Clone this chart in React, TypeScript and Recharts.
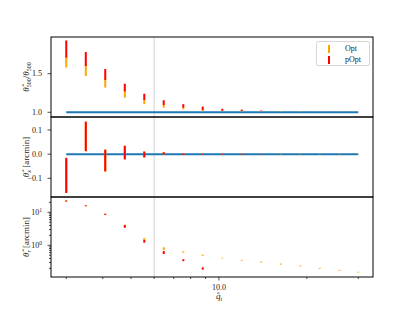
import { ComposedChart, Line, Scatter, ErrorBar, XAxis, YAxis, ReferenceLine } from 'recharts'

// q_t sample points (log spaced)
const q = [3.0, 3.5, 4.08, 4.76, 5.55, 6.47, 7.55, 8.8, 10.27, 11.97, 13.96, 16.29, 19.0, 22.15, 25.84, 30.0]

// panel 1: theta500 ratio
const ratioOptLo = [1.58, 1.47, 1.32, 1.19, 1.105, 1.06, 1.04, 1.017, 1.016, 1.014, 1.012, 1.01, 1.008, 1.006, 1.005, 1.004]
const ratioOptHi = [1.73, 1.62, 1.44, 1.28, 1.17, 1.1, 1.065, 1.035, 1.03, 1.025, 1.018, 1.016, 1.013, 1.009, 1.008, 1.006]
const ratioPoptLo = [1.71, 1.6, 1.42, 1.27, 1.16, 1.095, 1.06, 1.03, 1.022, 1.018, 1.014]
const ratioPoptHi = [1.93, 1.78, 1.56, 1.37, 1.24, 1.156, 1.105, 1.074, 1.045, 1.035, 1.022]
const ratioTruth = q.map(() => 1)

// panel 2: offset
const offOptLo = [-0.155, 0.015, -0.074, -0.02, -0.012, -0.001, -0.003, -0.002, -0.002, -0.002, -0.001, -0.001, -0.001, -0.001, -0.001, -0.001]
const offOptHi = [-0.02, 0.13, 0.017, 0.032, 0.01, 0.007, 0.003, 0.002, 0.002, 0.002, 0.001, 0.001, 0.001, 0.001, 0.001, 0.001]
const offPoptLo = [-0.161, 0.012, -0.07, -0.022, -0.014, -0.001, -0.003, -0.002, -0.002, -0.002, -0.001]
const offPoptHi = [-0.015, 0.135, 0.019, 0.035, 0.011, 0.008, 0.003, 0.002, 0.002, 0.002, 0.001]
const offTruth = q.map(() => 0)

// panel 3: width (arcmin)
const widOptLo = [21, 15.2, 8.3, 3.6, 1.45, 0.72, 0.6, 0.48, 0.4, 0.34, 0.3, 0.26, 0.23, 0.195, 0.17, 0.15]
const widOptHi = [23, 16.4, 9.1, 4.2, 1.65, 0.87, 0.66, 0.52, 0.42, 0.36, 0.32, 0.28, 0.245, 0.207, 0.18, 0.158]
const widPoptLo = [21.2, 15.3, 8.4, 3.4, 1.2, 0.545, 0.33, 0.183]
const widPoptHi = [22.8, 16.2, 9.0, 4.1, 1.45, 0.67, 0.377, 0.215]

const xMinorTicks = [3, 4, 5, 6, 7, 8, 9, 10, 20, 30]
const logYTicks = [0.2, 0.3, 0.4, 0.5, 0.6, 0.7, 0.8, 0.9, 1, 2, 3, 4, 5, 6, 7, 8, 9, 10, 20]

const W = 415
const H = 311
const LEFT = 51
const RIGHT = 373
const Y_AXIS_W = 40
const X_AXIS_H = 30
const panels = [
  { top: 37, bottom: 117 },
  { top: 117, bottom: 197 },
  { top: 197, bottom: 277 },
]
const FONT = '"Liberation Serif", "DejaVu Serif", serif'
const OPT = '#ffa500'
const POPT = '#ff0000'
const BLUE = '#1f77b4'
const INK = '#222'

const toBars = (lo: number[], hi: number[]) =>
  lo.map((l, i) => {
    const mid = (l + hi[i]) / 2
    return { x: q[i], y: mid, err: [mid - l, hi[i] - mid] }
  })

const toLine = (vals: number[]) => vals.map((v, i) => ({ x: q[i], y: v }))

const XTick = ({ x, y, payload }: any) => {
  const major = payload.value === 10
  return (
    <g>
      <line x1={x} x2={x} y1={y} y2={y + (major ? 3.5 : 2)} stroke={INK} strokeWidth={0.8} />
      {major && (
        <text x={x} y={y + 12.5} textAnchor="middle" fontSize={8} fontFamily={FONT} fill={INK}>
          10.0
        </text>
      )}
    </g>
  )
}

const linearYTick = (fmt: (v: number) => string) => ({ x, y, payload }: any) => (
  <g>
    <line x1={x - 3.5} x2={x} y1={y} y2={y} stroke={INK} strokeWidth={0.8} />
    <text x={x - 9} y={y} dy="0.35em" textAnchor="end" fontSize={8} fontFamily={FONT} fill={INK}>
      {fmt(payload.value)}
    </text>
  </g>
)

const LogYTick = ({ x, y, payload }: any) => {
  const v = payload.value
  const major = v === 1 || v === 10
  return (
    <g>
      <line x1={x - (major ? 3.5 : 2)} x2={x} y1={y} y2={y} stroke={INK} strokeWidth={0.8} />
      {major && (
        <text x={x - 9} y={y} dy="0.35em" textAnchor="end" fontSize={8} fontFamily={FONT} fill={INK}>
          10
          <tspan dy={-3} fontSize={5.5}>{v === 1 ? '0' : '1'}</tspan>
        </text>
      )}
    </g>
  )
}

const hideShape = () => <g />

function Panel({ index, children, yAxis }: any) {
  const p = panels[index]
  const showX = index === 2
  return (
    <div style={{ position: 'absolute', left: 0, top: 0 }}>
      <ComposedChart
        width={W}
        height={H}
        margin={{
          top: p.top,
          bottom: H - p.bottom - (showX ? X_AXIS_H : 0),
          left: LEFT - Y_AXIS_W,
          right: W - RIGHT,
        }}
      >
        <XAxis
          dataKey="x"
          type="number"
          scale="log"
          domain={[2.66, 33.7]}
          allowDataOverflow
          ticks={xMinorTicks}
          interval={0}
          tick={<XTick />}
          tickLine={false}
          axisLine={false}
          tickSize={0}
          tickMargin={0}
          height={X_AXIS_H}
          hide={!showX}
        />
        {yAxis}
        <ReferenceLine x={6} stroke="#d3d3d3" strokeWidth={1} />
        {children}
      </ComposedChart>
    </div>
  )
}

const bars = (lo: number[], hi: number[], color: string, name: string) => (
  <Scatter name={name} data={toBars(lo, hi)} dataKey="y" shape={hideShape} isAnimationActive={false}>
    <ErrorBar dataKey="err" direction="y" width={0} stroke={color} strokeWidth={2} isAnimationActive={false} />
  </Scatter>
)

export default function App() {
  const mid1 = (panels[0].top + panels[0].bottom) / 2
  const mid2 = (panels[1].top + panels[1].bottom) / 2
  const mid3 = (panels[2].top + panels[2].bottom) / 2
  return (
    <div style={{ position: 'relative', width: W, height: H, background: '#fff', fontFamily: FONT }}>
      <style>{'body{margin:0}'}</style>

      <Panel
        index={0}
        yAxis={
          <YAxis
            dataKey="y"
            type="number"
            domain={[0.939, 1.975]}
            allowDataOverflow
            ticks={[1.0, 1.5]}
            interval={0}
            tick={linearYTick((v) => v.toFixed(1))}
            tickLine={false}
            axisLine={false}
            tickSize={0}
            tickMargin={0}
            width={Y_AXIS_W}
          />
        }
      >
        <Line data={toLine(ratioTruth)} dataKey="y" stroke={BLUE} strokeWidth={2} dot={false} isAnimationActive={false} />
        {bars(ratioOptLo, ratioOptHi, OPT, 'Opt')}
        {bars(ratioPoptLo, ratioPoptHi, POPT, 'pOpt')}
      </Panel>

      <Panel
        index={1}
        yAxis={
          <YAxis
            dataKey="y"
            type="number"
            domain={[-0.1774, 0.1538]}
            allowDataOverflow
            ticks={[-0.1, 0, 0.1]}
            interval={0}
            tick={linearYTick((v) => (v < 0 ? '\u2212' : '') + Math.abs(v).toFixed(1))}
            tickLine={false}
            axisLine={false}
            tickSize={0}
            tickMargin={0}
            width={Y_AXIS_W}
          />
        }
      >
        <Line data={toLine(offTruth)} dataKey="y" stroke={BLUE} strokeWidth={2} dot={false} isAnimationActive={false} />
        {bars(offOptLo, offOptHi, OPT, 'Opt')}
        {bars(offPoptLo, offPoptHi, POPT, 'pOpt')}
      </Panel>

      <Panel
        index={2}
        yAxis={
          <YAxis
            dataKey="y"
            type="number"
            scale="log"
            domain={[0.1095, 29.1]}
            allowDataOverflow
            ticks={logYTicks}
            interval={0}
            tick={<LogYTick />}
            tickLine={false}
            axisLine={false}
            tickSize={0}
            tickMargin={0}
            width={Y_AXIS_W}
          />
        }
      >
        {bars(widOptLo, widOptHi, OPT, 'Opt')}
        {bars(widPoptLo, widPoptHi, POPT, 'pOpt')}
      </Panel>

      {/* frames and axis labels */}
      <svg width={W} height={H} style={{ position: 'absolute', left: 0, top: 0, pointerEvents: 'none' }}>
        {panels.map((p, i) => (
          <rect key={i} x={LEFT} y={p.top} width={RIGHT - LEFT} height={p.bottom - p.top} fill="none" stroke="#000" strokeWidth={1} />
        ))}
        <text transform={`translate(29,${mid1}) rotate(-90)`} textAnchor="middle" fontSize={9} fontFamily={FONT} fill={INK}>
          <tspan fontStyle="italic">θ̂</tspan>
          <tspan dy={2} fontSize={6}>500</tspan>
          <tspan dy={-2}>/</tspan>
          <tspan fontStyle="italic">θ</tspan>
          <tspan dy={2} fontSize={6}>500</tspan>
        </text>
        <text transform={`translate(29,${mid2}) rotate(-90)`} textAnchor="middle" fontSize={9} fontFamily={FONT} fill={INK}>
          <tspan fontStyle="italic">θ̂</tspan>
          <tspan dy={2} fontSize={6} fontStyle="italic">x</tspan>
          <tspan dy={-2}> [arcmin]</tspan>
        </text>
        <text transform={`translate(29,${mid3}) rotate(-90)`} textAnchor="middle" fontSize={9} fontFamily={FONT} fill={INK}>
          <tspan fontStyle="italic">θ̂</tspan>
          <tspan dy={2} fontSize={6} fontStyle="italic">r</tspan>
          <tspan dy={-2}> [arcmin]</tspan>
        </text>
        <text x={219} y={299} textAnchor="middle" fontSize={9} fontFamily={FONT} fill={INK}>
          <tspan fontStyle="italic">q̂</tspan>
          <tspan dy={2} fontSize={6}>t</tspan>
        </text>
      </svg>

      {/* legend */}
      <div
        style={{
          position: 'absolute',
          left: 316,
          top: 41,
          width: 54,
          height: 25,
          boxSizing: 'border-box',
          border: '1px solid #d8d8d8',
          borderRadius: 2,
          background: 'rgba(255,255,255,0.8)',
          fontSize: 8,
          color: INK,
        }}
      >
        {[
          { name: 'Opt', color: OPT, top: 3 },
          { name: 'pOpt', color: POPT, top: 14 },
        ].map((e) => (
          <div key={e.name} style={{ position: 'absolute', left: 0, top: e.top, height: 8, width: '100%' }}>
            <div style={{ position: 'absolute', left: 11, top: 0, width: 2, height: 8, background: e.color }} />
            <div style={{ position: 'absolute', left: 28, top: -1, lineHeight: '10px' }}>{e.name}</div>
          </div>
        ))}
      </div>
    </div>
  )
}
